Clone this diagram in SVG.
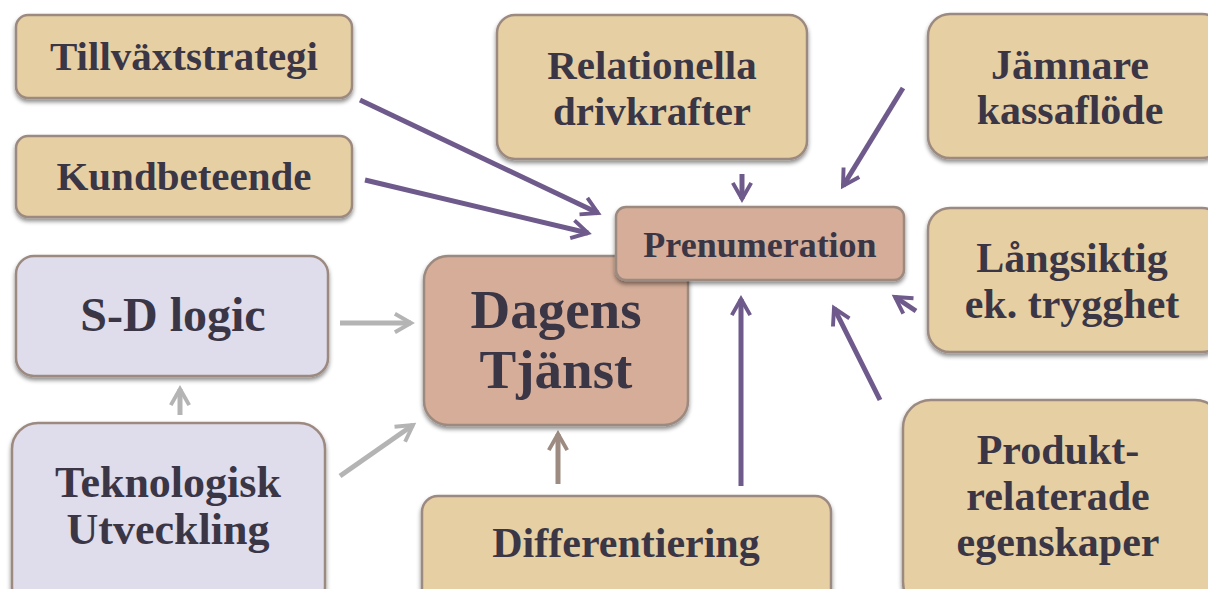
<svg xmlns="http://www.w3.org/2000/svg" width="1208" height="589" viewBox="0 0 1208 589">
<style>
  .box { stroke: #9c8a80; stroke-width: 2.5; filter: url(#shadow); }
  .tan { fill: #e6cfa3; }
  .rose { fill: #d5ad98; }
  .lav { fill: #dfdcec; }
  .lbl { font-family: "Liberation Serif", "Times New Roman", serif; font-weight: bold; fill: #3a3646; text-anchor: middle; }
  .purple { stroke: #6f5a8c; stroke-width: 5; fill: none; marker-end: url(#headP); }
  .grey { stroke: #b4b4b4; stroke-width: 5; fill: none; marker-end: url(#headG); }
  .brown { stroke: #9d8b82; stroke-width: 5; fill: none; marker-end: url(#headB); }
</style>
<defs>
  <filter id="shadow" x="-10%" y="-10%" width="120%" height="130%">
    <feDropShadow dx="0" dy="3" stdDeviation="2" flood-color="#000" flood-opacity="0.45"/>
  </filter>
  <marker id="headP" viewBox="0 0 10 10" refX="8" refY="5" markerWidth="4.6" markerHeight="4.6" orient="auto" markerUnits="strokeWidth">
    <path d="M1,1 L8,5 L1,9" fill="none" stroke="#6f5a8c" stroke-width="1.7"/>
  </marker>
  <marker id="headG" viewBox="0 0 10 10" refX="8" refY="5" markerWidth="4.6" markerHeight="4.6" orient="auto" markerUnits="strokeWidth">
    <path d="M1,1 L8,5 L1,9" fill="none" stroke="#b4b4b4" stroke-width="1.7"/>
  </marker>
  <marker id="headB" viewBox="0 0 10 10" refX="8" refY="5" markerWidth="4.6" markerHeight="4.6" orient="auto" markerUnits="strokeWidth">
    <path d="M1,1 L8,5 L1,9" fill="none" stroke="#9d8b82" stroke-width="1.7"/>
  </marker>
</defs>
<rect width="1208" height="589" fill="#ffffff"/>

<g id="connectors">
  <line class="purple" x1="360" y1="100" x2="598" y2="213"/>
  <line class="purple" x1="365" y1="180" x2="588" y2="233"/>
  <line class="purple" x1="742" y1="174" x2="742" y2="199"/>
  <line class="purple" x1="903" y1="88" x2="843" y2="186"/>
  <line class="purple" x1="916" y1="311" x2="895" y2="297"/>
  <line class="purple" x1="880" y1="400" x2="834" y2="308"/>
  <line class="purple" x1="741" y1="486" x2="741" y2="299"/>
  <line class="brown" x1="558" y1="484" x2="558" y2="434"/>
  <line class="grey" x1="340" y1="323" x2="411" y2="323"/>
  <line class="grey" x1="340" y1="476" x2="413" y2="425"/>
  <line class="grey" x1="180" y1="415" x2="180" y2="389"/>
</g>

<g id="tillvaxtstrategi">
  <rect class="box tan" x="16" y="15" width="336" height="83" rx="12"/>
  <text class="lbl" x="184" y="70" font-size="41">Tillväxtstrategi</text>
</g>
<g id="kundbeteende">
  <rect class="box tan" x="16" y="136" width="336" height="81" rx="12"/>
  <text class="lbl" x="184" y="190" font-size="41">Kundbeteende</text>
</g>
<g id="relationella">
  <rect class="box tan" x="497" y="15" width="310" height="144" rx="18"/>
  <text class="lbl" font-size="41"><tspan x="652" y="79">Relationella</tspan><tspan x="652" y="125">drivkrafter</tspan></text>
</g>
<g id="jamnare">
  <rect class="box tan" x="928" y="14" width="296" height="144" rx="22"/>
  <text class="lbl" font-size="42"><tspan x="1070" y="79">Jämnare</tspan><tspan x="1070" y="124">kassaflöde</tspan></text>
</g>
<g id="langsiktig">
  <rect class="box tan" x="928" y="208" width="296" height="144" rx="22"/>
  <text class="lbl" font-size="42"><tspan x="1072" y="272">Långsiktig</tspan><tspan x="1072" y="318">ek. trygghet</tspan></text>
</g>
<g id="produkt">
  <rect class="box tan" x="903" y="400" width="320" height="210" rx="28"/>
  <text class="lbl" font-size="42"><tspan x="1058" y="464">Produkt-</tspan><tspan x="1058" y="510">relaterade</tspan><tspan x="1058" y="556">egenskaper</tspan></text>
</g>
<g id="dagens">
  <rect class="box rose" x="424" y="256" width="264" height="169" rx="24"/>
  <text class="lbl" font-size="55"><tspan x="556" y="328">Dagens</tspan><tspan x="556" y="388">Tjänst</tspan></text>
</g>
<g id="prenumeration">
  <rect class="box rose" x="616" y="207" width="288" height="73" rx="10"/>
  <text class="lbl" x="760" y="257" font-size="36">Prenumeration</text>
</g>
<g id="sdlogic">
  <rect class="box lav" x="16" y="256" width="312" height="120" rx="18"/>
  <text class="lbl" x="173" y="331" font-size="48">S-D logic</text>
</g>
<g id="teknologisk">
  <rect class="box lav" x="12" y="423" width="313" height="190" rx="26"/>
  <text class="lbl" font-size="44"><tspan x="168" y="497">Teknologisk</tspan><tspan x="168" y="544">Utveckling</tspan></text>
</g>
<g id="differentiering">
  <rect class="box tan" x="422" y="496" width="409" height="110" rx="16"/>
  <text class="lbl" x="626" y="557" font-size="42">Differentiering</text>
</g>
</svg>
